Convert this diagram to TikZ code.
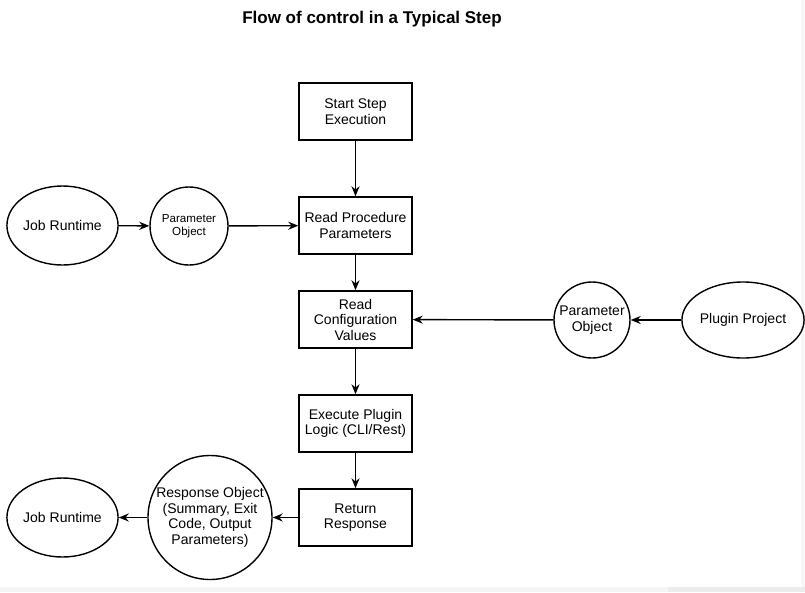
\documentclass[tikz,border=0pt]{standalone}
\usepackage{fontspec}
\setmainfont{Liberation Sans}
\usetikzlibrary{shapes.geometric,arrows.meta}

\begin{document}
\begin{tikzpicture}[x=1pt,y=-1pt,
		line width=1.4pt,
		stepbox/.style={draw,rectangle,minimum width=113pt,minimum height=57pt,
			inner sep=2pt,align=center,font=\fontsize{14}{15.5}\selectfont},
		actor/.style={draw,ellipse,minimum width=111pt,minimum height=79pt,
			inner sep=0pt,align=center,font=\fontsize{14}{15.5}\selectfont},
		obj/.style={draw,circle,inner sep=0pt,align=center},
		flow/.style={-{Stealth[length=10pt,width=8pt]}}]
		\useasboundingbox (0,0) rectangle (805,592);
		\fill[gray!6] (801,0) rectangle (805,587);
		\fill[gray!8] (0,587) rectangle (805,592);
		\fill[gray!15] (668,587) rectangle (805,592);
		
		% title
		\node[font=\bfseries\fontsize{17}{20}\selectfont] (title) at (372,19) {Flow of control in a Typical Step};
		
		% main steps
		\node[stepbox] (start)   at (355.5,111.5) {Start Step\\Execution};
		\node[stepbox] (readpar) at (355.5,225.5) {Read Procedure\\Parameters};
		\node[stepbox] (readcfg) at (355.5,319.5) {Read\\Configuration\\Values};
		\node[stepbox] (exec)    at (355.5,423.5) {Execute Plugin\\Logic (CLI/Rest)};
		\node[stepbox] (ret)     at (355.5,517.5) {Return\\Response};
		
		% inputs and outputs
		\node[actor] (jobin)  at (62.5,225.5) {Job Runtime};
		\node[obj,minimum size=78pt,font=\fontsize{11.6}{13.5}\selectfont] (parin) at (189,226) {Parameter\\Object};
		\node[obj,minimum size=76pt,inner sep=-2pt,font=\fontsize{14}{15.5}\selectfont] (parcfg) at (592,320) {Parameter\\Object};
		\node[actor,minimum width=114pt,minimum height=76pt] (plugin) at (743,320) {Plugin Project};
		\node[obj,minimum size=124pt,inner sep=-4pt,font=\fontsize{14}{15.5}\selectfont] (resp) at (210,517.5) {Response Object\\(Summary, Exit\\Code, Output\\Parameters)};
		\node[actor] (jobout) at (62.5,517.5) {Job Runtime};
		
		\draw[flow] (start) -- (readpar);
		\draw[flow] (readpar) -- (readcfg);
		\draw[flow] (readcfg) -- (exec);
		\draw[flow] (exec) -- (ret);
		
		\draw[flow] (jobin) -- (parin);
		\draw[flow] (parin) -- (readpar);
		\draw[flow] (plugin) -- (parcfg);
		\draw[flow] (parcfg) -- (readcfg);
		\draw[flow] (ret) -- (resp);
		\draw[flow] (resp) -- (jobout);
\end{tikzpicture}
\end{document}
